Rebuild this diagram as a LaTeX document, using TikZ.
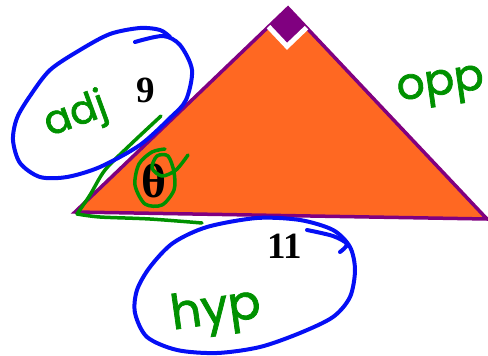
\documentclass[tikz,border=0pt]{standalone}
\usepackage{fontspec}
\newfontfamily\handfont{Poppins}[FakeBold=1.6]
\newfontfamily\numfont{Liberation Serif}
\usepackage{tikz}
\usetikzlibrary{calc}
\definecolor{triorange}{RGB}{255,104,34}
\definecolor{tripurple}{RGB}{128,0,128}
\definecolor{penblue}{RGB}{5,15,245}
\definecolor{pengreen}{RGB}{0,145,0}

\begin{document}
\begin{tikzpicture}[x=1pt, y=-1pt,
  edge/.style={draw=tripurple, line width=3.5pt},
  bluepen/.style={draw=penblue, line width=4pt, line cap=round, line join=round},
  greenpen/.style={draw=pengreen, line width=3.5pt, line cap=round, line join=round},
  hand/.style={text=pengreen, inner sep=0pt, font=\handfont\fontsize{40}{40}\selectfont},
  side/.style={inner sep=0pt, font=\numfont\bfseries\fontsize{37}{37}\selectfont}]
  \useasboundingbox (0,0) rectangle (488,356);

  % Triangle: theta at A, right angle at B
  \coordinate (A) at (75,212);
  \coordinate (B) at (288,8);
  \coordinate (C) at (487,219);
  \fill[triorange] (A) -- (B) -- (C) -- cycle;
  \draw[edge] (A) -- (B) -- (C) -- cycle;

  % Right angle mark
  \coordinate (Ba) at ($(B)!27pt!(A)$);
  \coordinate (Bc) at ($(B)!27pt!(C)$);
  \coordinate (Bd) at ($(Ba)+(Bc)-(B)$);
  \fill[tripurple] (B) -- (Ba) -- (Bd) -- (Bc) -- cycle;
  \draw[white, line width=5pt] (Ba) -- (Bd) -- (Bc);

  % Side lengths
  \node[side] (adjlen) at (146,90) {9};
  \node[side] (hyplen) at (285,246) {11};

  % Angle
  \node[inner sep=0pt, font=\numfont\bfseries\fontsize{48}{48}\selectfont] (theta) at (154,181) {θ};
  \draw[greenpen] plot[smooth] coordinates {(188,155) (176,170) (162,176) (152,168) (157,156)
    (168,156) (174,172) (174,190) (162,205) (145,204) (135,185) (139,164) (152,152) (165,149)};

  % Green marks along the adjacent leg
  \draw[greenpen] plot[smooth, tension=0.5] coordinates {(161,116) (130,145) (105,170) (90,195) (77,214)};
  \draw[greenpen] plot[smooth, tension=0.5] coordinates {(77,214) (100,217) (150,219) (202,223)};

  % Loops round the labels
  \draw[bluepen] plot[smooth] coordinates {(135,42) (163,36) (180,45) (192,70) (186,100) (170,118)
    (140,145) (100,167) (67,177) (40,177) (20,163) (13,140) (17,118) (30,96) (50,70) (80,50)
    (110,34) (140,28) (160,30) (170,37)};
  \draw[bluepen] plot[smooth] coordinates {(307,230) (333,236) (347,244) (340,252)};
  \draw[bluepen] plot[smooth cycle] coordinates {(257,218) (300,220) (333,230) (350,247) (355,270)
    (350,297) (333,317) (300,333) (260,347) (217,353) (177,350) (147,337) (135,313) (137,290)
    (150,267) (173,243) (207,227)};

  % Side names
  \node[hand, rotate=20] (adj) at (76,116) {adj};
  \node[hand, rotate=8, font=\handfont\fontsize{44}{44}\selectfont] (opp) at (441,88) {opp};
  \node[hand, rotate=8, font=\handfont\fontsize{48}{48}\selectfont] (hyp) at (216,312) {hyp};
\end{tikzpicture}
\end{document}
